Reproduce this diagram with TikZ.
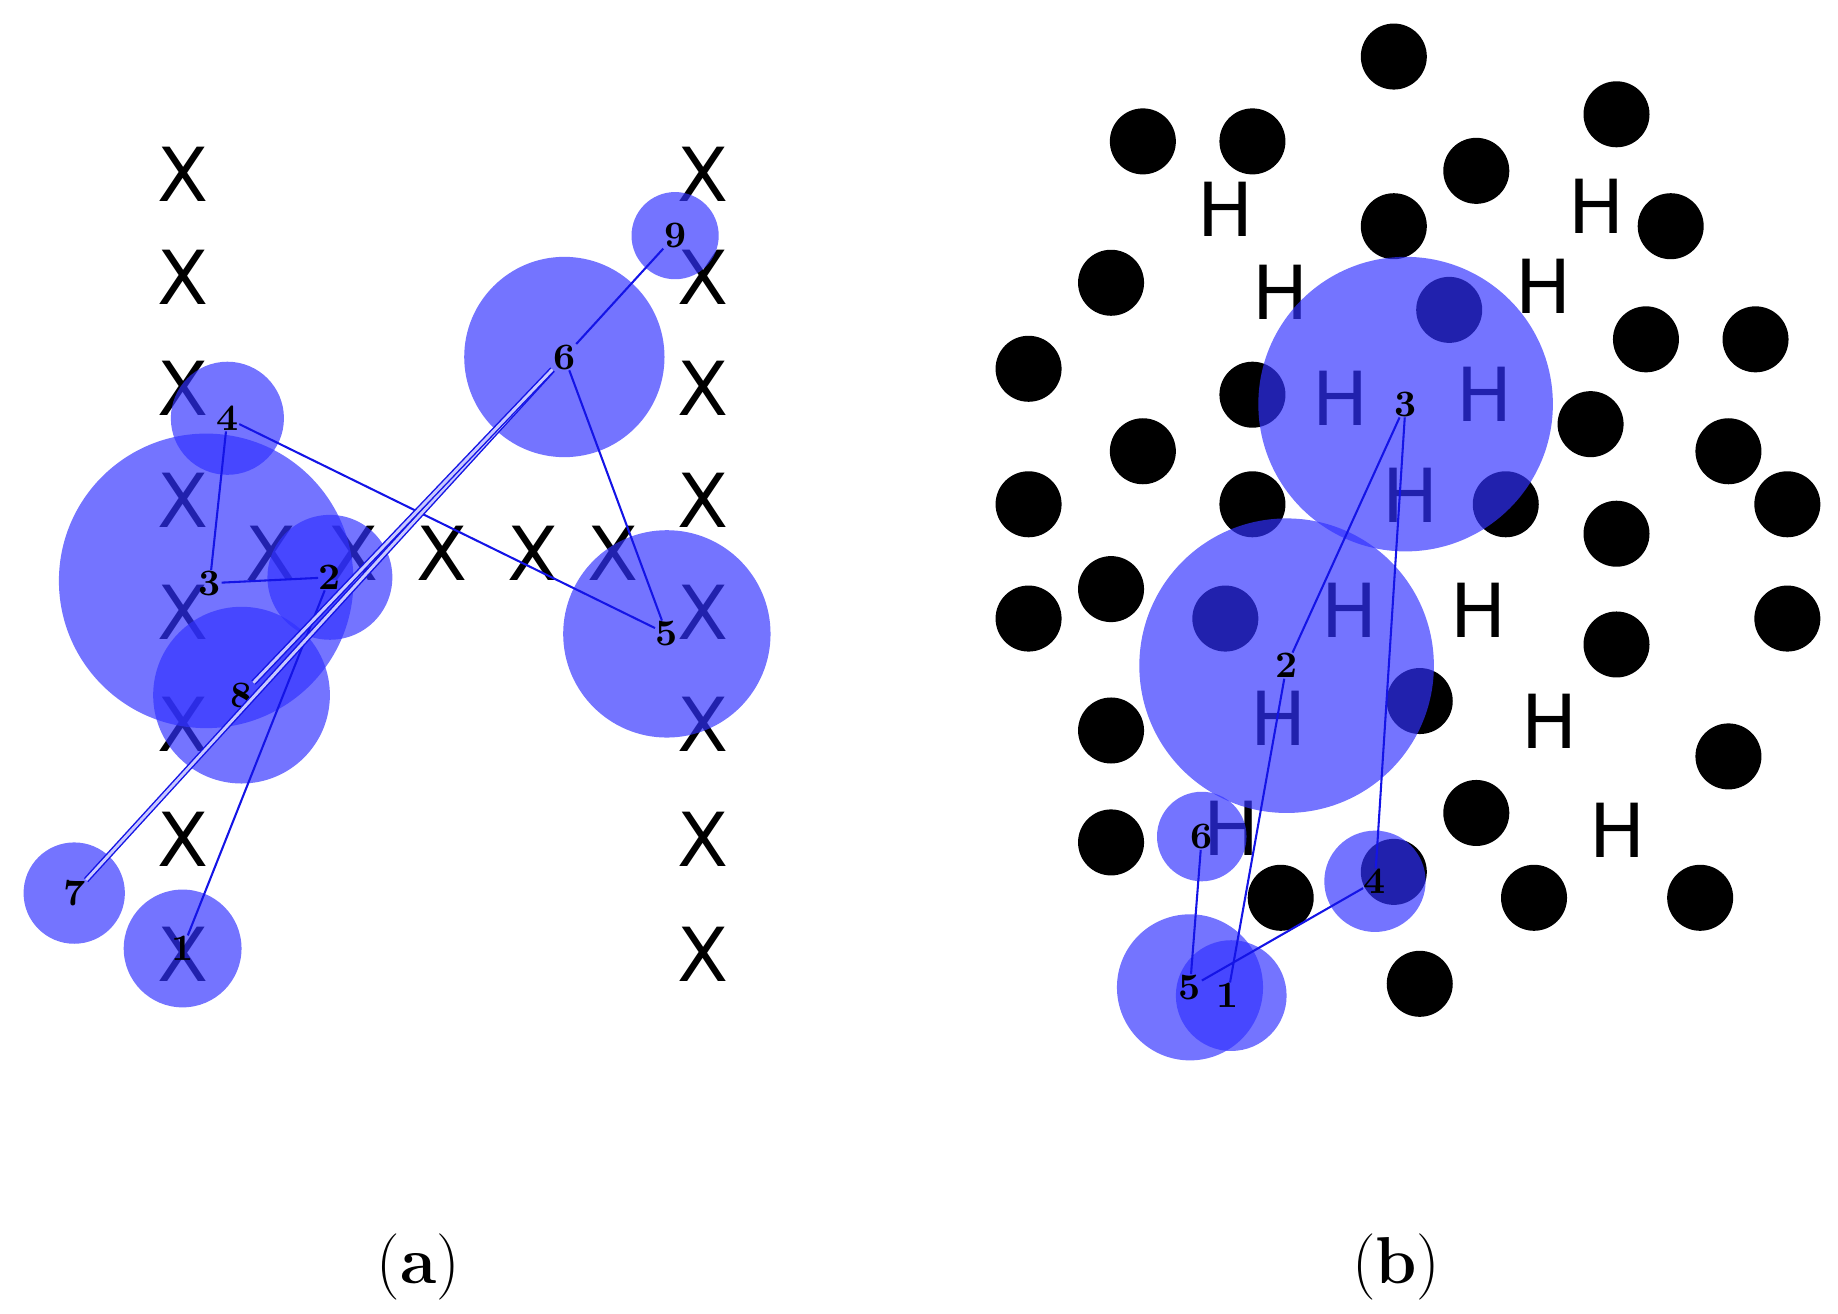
\documentclass[tikz,border=0pt]{standalone}
\usepackage{fontspec}
\newfontfamily\sansx{DejaVu Sans}
\begin{document}
\begin{tikzpicture}[x=0.01cm,y=-0.01cm,
  bc/.style={fill={rgb,255:red,50;green,50;blue,255},fill opacity=0.68,draw=none},
  dot/.style={circle,fill=black,minimum size=0.56cm,inner sep=0},
  mk/.style={font=\sansx\fontsize{18}{18}\selectfont,inner sep=0},
  num/.style={font=\bfseries\fontsize{9}{9}\selectfont,inner sep=0},
  ed/.style={draw={rgb,255:red,20;green,20;blue,230},line width=0.5pt},
  ded/.style={draw={rgb,255:red,20;green,20;blue,230},double={rgb,255:red,200;green,200;blue,255},double distance=0.7pt,line width=0.35pt},
  lab/.style={font=\fontsize{16}{16}\selectfont,inner sep=0}]
\useasboundingbox (0,0) rectangle (1560,1115);
% (a) X marks
\foreach \x/\y [count=\i] in {155/148,155/235,155/330,155/425,155/520,155/615,155/712,155/810,
 597/148,597/235,597/330,597/425,597/520,597/615,597/712,597/810,
 230/470,300/470,375/470,452/470,520/470}
  \node[mk] (x\i) at (\x,\y) {X};
% (a) circles
\foreach \n/\x/\y/\r in {9/573/200/37,6/479/303/85,4/193/355/48,3/175/493/125,2/280/490/53,8/205/590/75,5/566/538/88,7/63/758/43,1/155/805/50}
  \fill[bc] (\x,\y) circle (\r);
\foreach \n/\x/\y in {9/573/200,6/479/303,4/193/355,3/178/495,2/280/490,8/205/590,5/566/538,7/63/758,1/155/805}
  \node[num] (a\n) at (\x,\y) {\n};
\draw[ed] (a9)--(a6); \draw[ed] (a6)--(a5); \draw[ed] (a4)--(a5);
\draw[ed] (a4)--(a3); \draw[ed] (a3)--(a2); \draw[ed] (a2)--(a1);
\draw[ded] (a6)--(a7); \draw[ded] (a6)--(a8);
% (b) dots
\foreach \x/\y [count=\i] in {1183/48,970/120,1063/120,1372/97,1253/145,1183/192,1418/192,943/240,1230/263,1397/288,1490/288,873/313,1063/335,1350/360,970/383,1467/383,873/428,1063/428,1278/428,1517/428,1372/453,943/500,873/525,1040/525,1517/525,1372/547,1205/595,943/620,1467/642,1253/690,943/715,1183/740,1087/762,1302/762,1443/762,1205/835}
  \node[dot] (d\i) at (\x,\y) {};
\foreach \x/\y [count=\i] in {1040/178,1355/175,1087/248,1310/243,1138/338,1260/335,1197/420,1145/518,1255/518,1085/610,1315/612,1045/703,1373/705}
  \node[mk] (h\i) at (\x,\y) {H};
\foreach \x/\y/\r in {1193/343/125,1092/565/125,1020/710/38,1167/748/43,1010/838/62,1045/845/47}
  \fill[bc] (\x,\y) circle (\r);
\foreach \n/\x/\y in {3/1193/343,2/1092/565,6/1020/710,4/1167/748,5/1010/838,1/1042/845}
  \node[num] (b\n) at (\x,\y) {\n};
\draw[ed] (b3)--(b2); \draw[ed] (b3)--(b4); \draw[ed] (b2)--(b1);
\draw[ed] (b4)--(b5); \draw[ed] (b6)--(b5);
\node[lab] (ca) at (355,1075) {(\textbf{a})};
\node[lab] (cb) at (1185,1075) {(\textbf{b})};
\end{tikzpicture}
\end{document}
